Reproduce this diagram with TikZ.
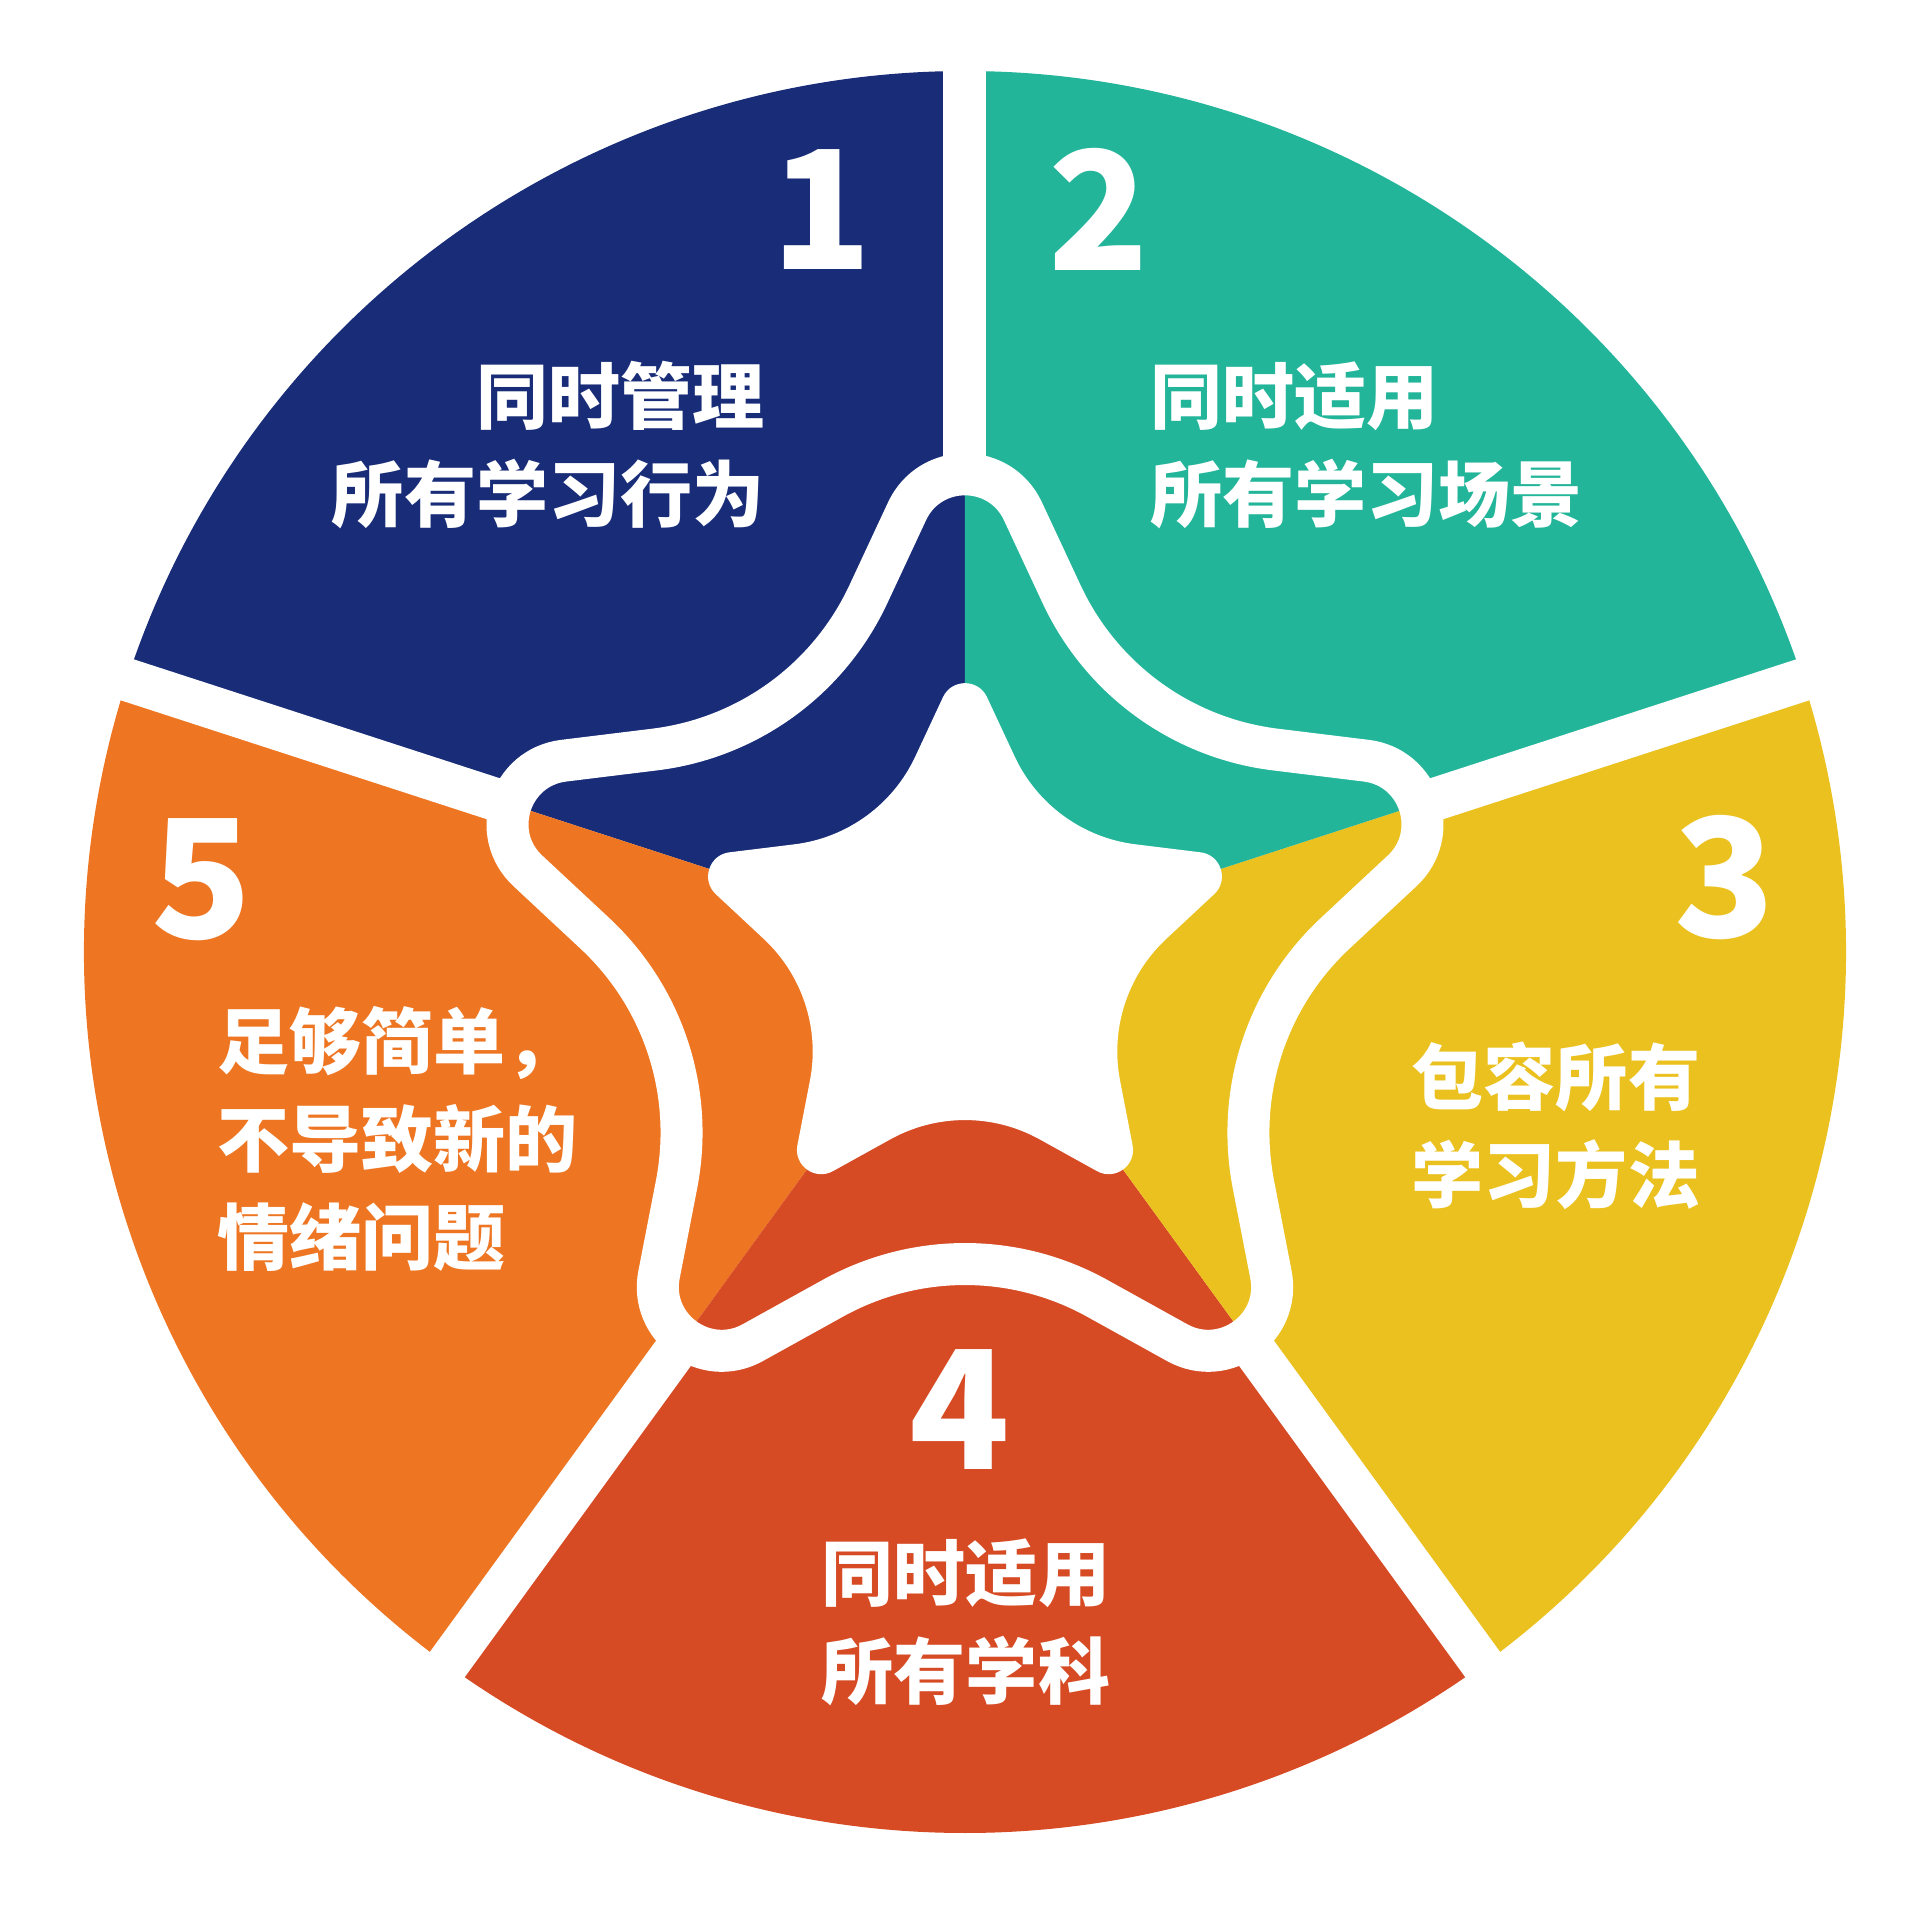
\documentclass[tikz,border=0pt]{standalone}
\usepackage{fontspec}
\usepackage{tikz}
\usetikzlibrary{calc}
\newfontfamily\cjk{Noto Sans CJK SC}
\definecolor{secblue}{RGB}{24,44,120}
\definecolor{secgreen}{RGB}{34,181,153}
\definecolor{secyellow}{RGB}{235,193,31}
\definecolor{secred}{RGB}{214,74,36}
\definecolor{secorange}{RGB}{238,118,35}
\tikzstyle{gapline} = [white, line width=4.3mm]
\tikzstyle{ringline} = [draw=white, line width=4.2mm, line join=round]
\tikzstyle{bignum} = [text=white, inner sep=0pt, font=\cjk\bfseries\fontsize{47}{47}\selectfont]
\tikzstyle{sectext} = [text=white, inner sep=0pt, font=\cjk\bfseries\fontsize{20.5}{27.9}\selectfont]

% rounded star: #1 prefix, #2 tip radius, #3 valley radius,
% #4 tip cut, #5 tip control, #6 valley cut, #7 valley control
\newcommand{\starpoints}[7]{%
  \foreach \k in {0,...,4}{
    \coordinate (#1t\k) at ({90+72*\k}:#2);
    \coordinate (#1v\k) at ({126+72*\k}:#3);
  }
  \foreach \k [evaluate=\k as \kn using {int(mod(\k+1,5))},
              evaluate=\k as \kb using {int(mod(\k+4,5))}] in {0,...,4}{
    \coordinate (#1a\k) at ($(#1t\k)!#4!(#1v\kb)$);
    \coordinate (#1p\k) at ($(#1t\k)!#5!(#1v\kb)$);
    \coordinate (#1q\k) at ($(#1t\k)!#5!(#1v\k)$);
    \coordinate (#1b\k) at ($(#1t\k)!#4!(#1v\k)$);
    \coordinate (#1c\k) at ($(#1v\k)!#6!(#1t\k)$);
    \coordinate (#1r\k) at ($(#1v\k)!#7!(#1t\k)$);
    \coordinate (#1s\k) at ($(#1v\k)!#7!(#1t\kn)$);
    \coordinate (#1d\k) at ($(#1v\k)!#6!(#1t\kn)$);
  }
}
\newcommand{\starpath}[1]{%
  (#1d4) \foreach \k in {0,...,4}{
    -- (#1a\k) .. controls (#1p\k) and (#1q\k) .. (#1b\k)
    -- (#1c\k) .. controls (#1r\k) and (#1s\k) .. (#1d\k)
  } -- cycle
}

\begin{document}
\begin{tikzpicture}
\useasboundingbox (-9.65,-9.58) rectangle (9.48,9.52);

% sectors
\fill[secblue] (0,0) -- (90:8.81) arc[start angle=90, end angle=162, radius=8.81] -- cycle;
\fill[secorange] (0,0) -- (162:8.81) arc[start angle=162, end angle=234, radius=8.81] -- cycle;
\fill[secred] (0,0) -- (234:8.81) arc[start angle=234, end angle=306, radius=8.81] -- cycle;
\fill[secyellow] (0,0) -- (306:8.81) arc[start angle=306, end angle=378, radius=8.81] -- cycle;
\fill[secgreen] (0,0) -- (18:8.81) arc[start angle=18, end angle=90, radius=8.81] -- cycle;

% white gaps
\draw[gapline] (90:4.8) -- (90:9.1);
\draw[gapline] (162:4.8) -- (162:9.1);
\draw[gapline] (234:4.8) -- (234:9.1);
\draw[gapline] (306:4.8) -- (306:9.1);
\draw[gapline] (18:4.8) -- (18:9.1);

% ring and star
\starpoints{ring}{5.65}{2.73}{0.361}{0.218}{0.398}{0.150}
\draw[ringline] \starpath{ring};
\starpoints{in}{3.02}{1.46}{0.256}{0.155}{0.42}{0.159}
\fill[white] \starpath{in};

% numbers
\node[bignum] (n1) at (-1.43,7.42) {1};
\node[bignum] (n2) at (1.34,7.43) {2};
\node[bignum] (n3) at (7.60,0.74) {3};
\node[bignum] (n4) at (-0.05,-4.58) {4};
\node[bignum] (n5) at (-7.63,0.72) {5};

% texts
\node[sectext, anchor=east, align=right] (t1) at (-2.00,5.07) {同时管理\\所有学习行为};
\node[sectext, anchor=west, align=left] (t2) at (1.85,5.07) {同时适用\\所有学习场景};
\node[sectext, align=center] (t3) at (5.91,-1.74) {包容所有\\学习方法};
\node[sectext, align=center] (t4) at (0.01,-6.70) {同时适用\\所有学科};
\node[sectext, anchor=west, align=left] (t5) at (-7.48,-1.87) {足够简单，\\不导致新的\\情绪问题};
\end{tikzpicture}
\end{document}
